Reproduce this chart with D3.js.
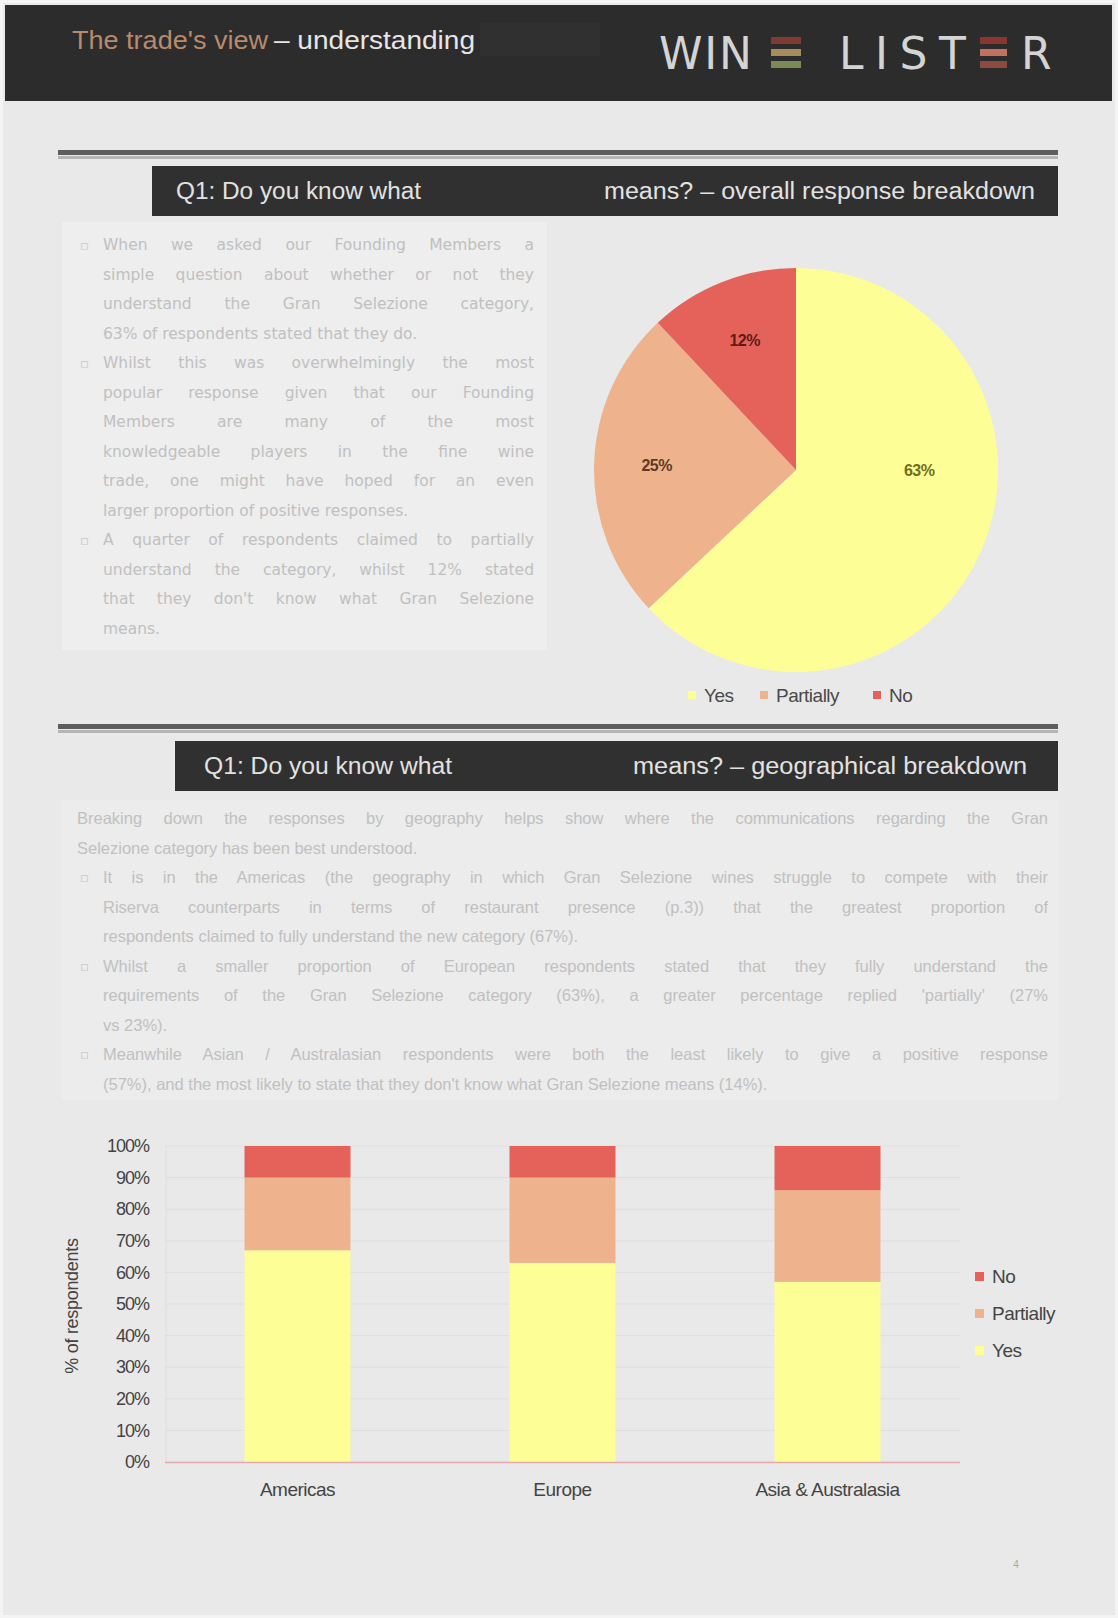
<!DOCTYPE html>
<html><head><meta charset="utf-8">
<script src="https://cdn.jsdelivr.net/npm/d3@7"></script>
<style>
html,body{margin:0;padding:0;background:#f4f4f4;}
#page{position:relative;width:1118px;height:1618px;overflow:hidden;}
#page svg{position:absolute;left:0;top:0;}
.ln{position:absolute;height:29.5px;line-height:29.5px;text-align:justify;text-align-last:justify;white-space:normal;overflow:hidden;color:#c0c0c0;}
.ln.last{text-align-last:left;}
.s1{font-family:"DejaVu Sans",sans-serif;font-size:15.5px;}
.s2{font-family:"Liberation Sans",Arial,sans-serif;font-size:16.5px;}
.bl{position:absolute;color:#c8c8c8;font-family:"DejaVu Sans",sans-serif;font-size:13px;line-height:29.5px;height:29.5px;}
</style></head>
<body><div id="page"></div>
<script>
// ---------- data ----------
const pieCategories = ["Yes", "Partially", "No"];
const pieValues = [63, 25, 12];
const regions = ["Americas", "Europe", "Asia & Australasia"];
const yesValues = [67, 63, 57];
const partiallyValues = [23, 27, 29];
const noValues = [10, 10, 14];
const yTickValues = [0, 10, 20, 30, 40, 50, 60, 70, 80, 90, 100];

const section1Lines = [
 "When we asked our Founding Members a",
 "simple question about whether or not they",
 "understand the Gran Selezione category,",
 "63% of respondents stated that they do.",
 "Whilst this was overwhelmingly the most",
 "popular response given that our Founding",
 "Members are many of the most",
 "knowledgeable players in the fine wine",
 "trade, one might have hoped for an even",
 "larger proportion of positive responses.",
 "A quarter of respondents claimed to partially",
 "understand the category, whilst 12% stated",
 "that they don't know what Gran Selezione",
 "means."
];
const section1Last = [3, 9, 13];
const section1Bullets = [0, 4, 10];

const section2Lines = [
 "Breaking down the responses by geography helps show where the communications regarding the Gran",
 "Selezione category has been best understood.",
 "It is in the Americas (the geography in which Gran Selezione wines struggle to compete with their",
 "Riserva counterparts in terms of restaurant presence (p.3)) that the greatest proportion of",
 "respondents claimed to fully understand the new category (67%).",
 "Whilst a smaller proportion of European respondents stated that they fully understand the",
 "requirements of the Gran Selezione category (63%), a greater percentage replied 'partially' (27%",
 "vs 23%).",
 "Meanwhile Asian / Australasian respondents were both the least likely to give a positive response",
 "(57%), and the most likely to state that they don't know what Gran Selezione means (14%)."
];
const section2Last = [1, 4, 7, 9];
const section2Bullets = [2, 5, 8];
const section2Indent = [2,3,4,5,6,7,8,9];

const colors = {"Yes": "#fefe96", "Partially": "#eeb38d", "No": "#e5625b"};
const labelColors = {"Yes": "#6e6e1e", "Partially": "#5e3a26", "No": "#5e1a16"};

// ---------- page ----------
const W = 1118, H = 1618;
const page = d3.select("#page");
const svg = page.append("svg").attr("width", W).attr("height", H);
const narrow = "'Liberation Sans',Arial,sans-serif";

svg.append("rect").attr("x", 3).attr("y", 3).attr("width", W - 6).attr("height", H - 6).attr("fill", "#e9e9e9");

// header
svg.append("rect").attr("x", 5).attr("y", 5).attr("width", 1107).attr("height", 96).attr("fill", "#2c2c2c");
svg.append("rect").attr("x", 480).attr("y", 22).attr("width", 120).attr("height", 34).attr("fill", "#303030");
svg.append("text").attr("x", 72).attr("y", 49).attr("fill", "#b98a6c")
  .attr("textLength", 196).attr("lengthAdjust", "spacingAndGlyphs")
  .style("font-family", narrow).style("font-size", "26px").text("The trade's view");
svg.append("text").attr("x", 274).attr("y", 49).attr("fill", "#e6e6e6")
  .attr("textLength", 201).attr("lengthAdjust", "spacingAndGlyphs")
  .style("font-family", narrow).style("font-size", "26px").text("\u2013 understanding");

// logo
const logoFont = "'DejaVu Sans',sans-serif";
function logoText(str, x0, x1) {
  svg.append("text").attr("x", x0).attr("y", 69).attr("fill", "#d4d4d4")
    .attr("textLength", x1 - x0).attr("lengthAdjust", "spacing")
    .style("font-family", logoFont).style("font-size", "44px").text(str);
}
logoText("WIN", 659, 752);
logoText("LIST", 839, 966);
logoText("R", 1021, 1049);
function eBars(x, w, cols) {
  cols.forEach((c, i) => svg.append("rect").attr("x", x).attr("y", 37 + i * 12).attr("width", w).attr("height", 7).attr("fill", c));
}
eBars(771, 30, ["#7f3a32", "#a88c5c", "#7c8a55"]);
eBars(980, 27, ["#8a3530", "#c4705e", "#8f4a40"]);

// section rules & title bars
function sectionBar(yRule, xBar, yBar, hBar, leftText, lx0, lx1, rightText, rx0, rx1) {
  svg.append("rect").attr("x", 58).attr("y", yRule).attr("width", 1000).attr("height", 5).attr("fill", "#5e5e5e");
  svg.append("rect").attr("x", 58).attr("y", yRule + 6).attr("width", 1000).attr("height", 3).attr("fill", "#b5b5b5");
  svg.append("rect").attr("x", xBar).attr("y", yBar).attr("width", 1058 - xBar).attr("height", hBar).attr("fill", "#303030");
  svg.append("text").attr("x", lx0).attr("y", yBar + hBar / 2 + 8).attr("fill", "#e2e2e2")
    .attr("textLength", lx1 - lx0).attr("lengthAdjust", "spacingAndGlyphs")
    .style("font-family", narrow).style("font-size", "23px").text(leftText);
  svg.append("text").attr("x", rx0).attr("y", yBar + hBar / 2 + 8).attr("fill", "#e2e2e2")
    .attr("textLength", rx1 - rx0).attr("lengthAdjust", "spacingAndGlyphs")
    .style("font-family", narrow).style("font-size", "23px").text(rightText);
}
sectionBar(150, 152, 166, 50, "Q1: Do you know what", 176, 421, "means? \u2013 overall response breakdown", 604, 1035);
sectionBar(724, 175, 741, 50, "Q1: Do you know what", 204, 452, "means? \u2013 geographical breakdown", 633, 1027);

// subtle text panels
svg.append("rect").attr("x", 62).attr("y", 222).attr("width", 485).attr("height", 428).attr("fill", "#eeeeee");
svg.append("rect").attr("x", 62).attr("y", 800).attr("width", 996).attr("height", 300).attr("fill", "#ececec");

// ---------- text blocks ----------
section1Lines.forEach((t, i) => {
  page.append("div").attr("class", "ln s1" + (section1Last.includes(i) ? " last" : ""))
    .style("left", "103px").style("width", "431px").style("top", (231 + i * 29.5) + "px").text(t);
});
section1Bullets.forEach(i => page.append("div").attr("class", "bl").style("left", "80px").style("top", (231 + i * 29.5) + "px").text("\u25AB"));

section2Lines.forEach((t, i) => {
  const ind = section2Indent.includes(i);
  page.append("div").attr("class", "ln s2" + (section2Last.includes(i) ? " last" : ""))
    .style("left", (ind ? 103 : 77) + "px").style("width", (ind ? 945 : 971) + "px").style("top", (804 + i * 29.5) + "px").text(t);
});
section2Bullets.forEach(i => page.append("div").attr("class", "bl").style("left", "80px").style("top", (804 + i * 29.5) + "px").text("\u25AB"));

// ---------- pie ----------
const pieData = pieCategories.map((c, i) => ({cat: c, value: pieValues[i]}));
const cx = 796, cy = 470, R = 202;
const pie = d3.pie().sort(null).value(d => d.value);
const arc = d3.arc().innerRadius(0).outerRadius(R);
const labelArc = d3.arc().innerRadius(R * 0.69).outerRadius(R * 0.69);
const pg = svg.append("g").attr("transform", `translate(${cx},${cy})`);
const arcs = pie(pieData);
pg.selectAll("path").data(arcs).join("path").attr("d", arc).attr("fill", d => colors[d.data.cat]);
pg.selectAll("text").data(arcs).join("text")
  .attr("transform", d => {
    const c = labelArc.centroid(d);
    if (d.data.cat === "Yes") return `translate(${R * 0.61},0)`;
    return `translate(${c[0]},${c[1]})`;
  })
  .attr("text-anchor", "middle").attr("dy", "0.35em")
  .attr("fill", d => labelColors[d.data.cat])
  .style("font-family", narrow).style("font-size", "16px").style("font-weight", "bold").style("letter-spacing", "-0.5px")
  .text(d => d.data.value + "%");

// pie legend
const pl = svg.append("g");
pieCategories.forEach((c, i) => {
  const x = [692, 764, 877][i];
  pl.append("rect").attr("x", x - 4).attr("y", 691).attr("width", 8).attr("height", 8).attr("fill", colors[c]);
  pl.append("text").attr("x", x + 12).attr("y", 702).attr("fill", "#4a4a4a")
    .style("font-family", narrow).style("font-size", "19px").style("letter-spacing", "-0.5px").text(c);
});

// ---------- stacked bars ----------
const table = regions.map((r, i) => ({region: r, Yes: yesValues[i] / 100, Partially: partiallyValues[i] / 100, No: noValues[i] / 100}));
const x = d3.scaleBand().domain(regions).range([165, 960]).paddingInner(0.6).paddingOuter(0.3);
const y = d3.scaleLinear().domain([0, 1]).range([1462, 1146]);
const bg = svg.append("g");
bg.selectAll("line.grid").data(yTickValues).join("line").attr("class", "grid")
  .attr("x1", 165).attr("x2", 960).attr("y1", d => y(d / 100)).attr("y2", d => y(d / 100))
  .attr("stroke", "#dedede").attr("stroke-width", 1);
bg.append("line").attr("x1", 166).attr("x2", 166).attr("y1", 1146).attr("y2", 1462).attr("stroke", "#e6dcdc");

const stack = d3.stack().keys(["Yes", "Partially", "No"]);
const series = stack(table);
bg.selectAll("g.series").data(series).join("g").attr("class", "series").attr("fill", d => colors[d.key])
  .selectAll("rect").data(d => d).join("rect")
  .attr("x", d => x(d.data.region)).attr("width", x.bandwidth())
  .attr("y", d => y(d[1])).attr("height", d => y(d[0]) - y(d[1]));

bg.append("line").attr("x1", 165).attr("x2", 960).attr("y1", 1462.5).attr("y2", 1462.5).attr("stroke", "#e2aaaa").attr("stroke-width", 1.5);

const yAxis = d3.axisLeft(y).tickValues(yTickValues.map(v => v / 100)).tickFormat(d3.format(".0%")).tickSize(0).tickPadding(0);
const ya = svg.append("g").attr("transform", "translate(149,0)").call(yAxis);
ya.select(".domain").remove();
ya.selectAll("text").attr("fill", "#444").style("font-family", narrow).style("font-size", "18px").style("letter-spacing", "-1px");

const xAxis = d3.axisBottom(x).tickSize(0).tickPadding(0);
const xa = svg.append("g").attr("transform", "translate(0,1482)").call(xAxis);
xa.select(".domain").remove();
xa.selectAll("text").attr("fill", "#444").style("font-family", narrow).style("font-size", "19px").style("letter-spacing", "-0.5px");

svg.append("text").attr("transform", "translate(78,1306) rotate(-90)").attr("text-anchor", "middle").attr("fill", "#444")
  .style("font-family", narrow).style("font-size", "18px").style("letter-spacing", "-0.3px").text("% of respondents");

// bar legend
const legOrder = ["No", "Partially", "Yes"];
const ly = d3.scalePoint().domain(legOrder).range([1277, 1351]);
legOrder.forEach(c => {
  svg.append("rect").attr("x", 975).attr("y", ly(c) - 5).attr("width", 9).attr("height", 9).attr("fill", colors[c]);
  svg.append("text").attr("x", 992).attr("y", ly(c) + 6).attr("fill", "#444")
    .style("font-family", narrow).style("font-size", "19px").style("letter-spacing", "-0.5px").text(c);
});

// page number
svg.append("text").attr("x", 1016).attr("y", 1568).attr("text-anchor", "middle").attr("fill", "#aaa")
  .style("font-family", narrow).style("font-size", "10px").text("4");
</script></body></html>
